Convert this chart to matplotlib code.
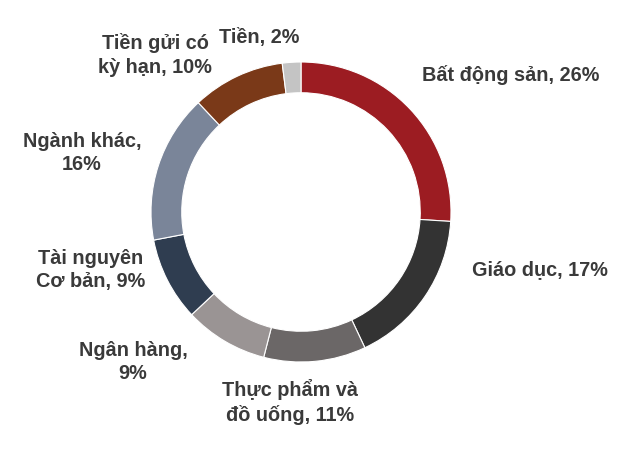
import matplotlib
matplotlib.use('Agg')
import matplotlib.pyplot as plt

# Dữ liệu
nhan = ['Bất động sản, 26%', 'Giáo dục, 17%', 'Thực phẩm và\nđồ uống, 11%',
        'Ngân hàng,\n9%', 'Tài nguyên\nCơ bản, 9%', 'Ngành khác,\n16%',
        'Tiền gửi có\nkỳ hạn, 10%', 'Tiền, 2%']
ty_trong = [26, 17, 11, 9, 9, 16, 10, 2]
mau = ['#9c1c22', '#333333', '#6b6767', '#9a9494', '#2f3d50',
       '#7a8599', '#7a3918', '#c4c4c4']

# vị trí nhãn (pixel, gốc trên-trái)
vi_tri = [(511, 75), (540, 270), (290, 402), (133, 362),
          (91, 270), (82, 153), (155, 55), (259, 38)]

W, H = 640, 449
fig = plt.figure(figsize=(W / 100, H / 100), dpi=100)
ax = fig.add_axes([0, 0, 1, 1])

cx, cy, r = 301, H - 212, 150
ax.pie(ty_trong, colors=mau, startangle=90, counterclock=False,
       center=(cx, cy), radius=r, frame=True,
       wedgeprops=dict(width=r * 0.205, edgecolor='white', linewidth=0.8))
ax.set_xlim(0, W)
ax.set_ylim(0, H)
ax.set_aspect('equal')
ax.axis('off')

for txt, (x, y) in zip(nhan, vi_tri):
    ax.text(x, H - y, txt, ha='center', va='center', fontsize=14.3,
            family='Liberation Sans', color='#3a3a3a', linespacing=1.3,
            fontweight='bold')

fig.savefig('out.png', dpi=100)
